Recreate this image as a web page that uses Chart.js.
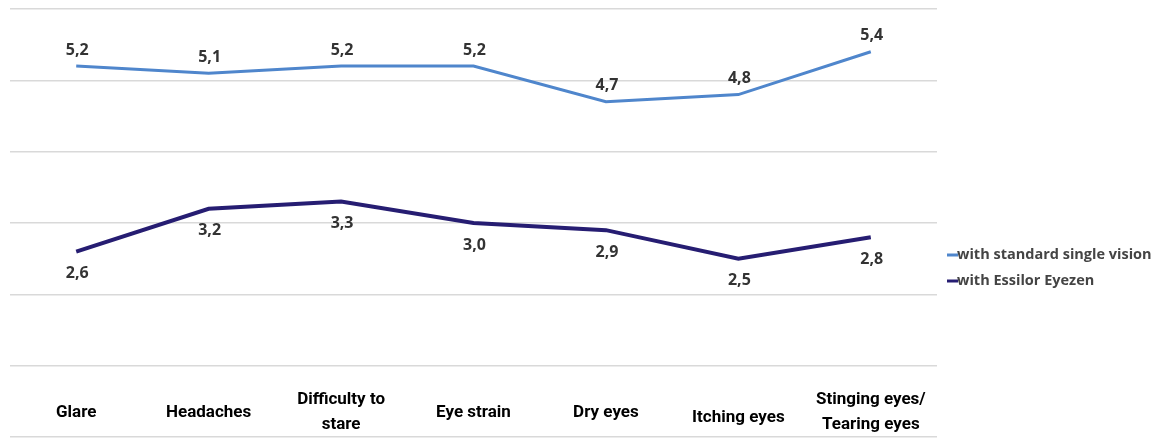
<!DOCTYPE html>
<html>
<head>
<meta charset="utf-8">
<script src="https://cdn.jsdelivr.net/npm/chart.js@4"></script>
<style>
  html, body { margin: 0; padding: 0; background: #fff; }
  #wrap { width: 1169px; height: 440px; position: relative; }
</style>
</head>
<body>
<div id="wrap"><canvas id="myChart"></canvas></div>
<script>
// categories and series
const categories = ['Glare', 'Headaches', ['Difficulty to', 'stare'], 'Eye strain', 'Dry eyes', 'Itching eyes', ['Stinging eyes/', 'Tearing eyes']];
const standardVision = [5.2, 5.1, 5.2, 5.2, 4.7, 4.8, 5.4];
const eyezen = [2.6, 3.2, 3.3, 3.0, 2.9, 2.5, 2.8];
const seriesNames = ['with standard single vision', 'with Essilor Eyezen'];

// value labels above the light line, below the dark one
const valueLabels = {
  id: 'valueLabels',
  afterDatasetsDraw(chart) {
    const ctx = chart.ctx;
    ctx.save();
    ctx.font = 'bold 16px "Open Sans"';
    ctx.fillStyle = '#333';
    ctx.textAlign = 'center';
    ctx.textBaseline = 'middle';
    chart.data.datasets.forEach((ds, i) => {
      const meta = chart.getDatasetMeta(i);
      meta.data.forEach((pt, j) => {
        const txt = ds.data[j].toFixed(1).replace('.', ',');
        const dy = i === 0 ? -16 : 22;
        ctx.fillText(txt, pt.x + 1, pt.y + dy);
      });
    });
    ctx.restore();
  }
};

// category names sit inside the plot, between the 1 and 0 lines
const categoryLabels = {
  id: 'categoryLabels',
  afterDraw(chart) {
    const ctx = chart.ctx;
    const xs = chart.scales.x;
    ctx.save();
    ctx.font = 'bold 17px Roboto';
    ctx.fillStyle = '#000';
    ctx.textAlign = 'center';
    ctx.textBaseline = 'middle';
    chart.data.labels.forEach((lab, i) => {
      const x = xs.getPixelForValue(i);
      if (Array.isArray(lab)) {
        ctx.fillText(lab[0], x, 400);
        ctx.fillText(lab[1], x, 425);
      } else {
        ctx.fillText(lab, x, i === 5 ? 418 : 413);
      }
    });
    ctx.restore();
  }
};

const sideLegend = {
  id: 'sideLegend',
  afterDraw(chart) {
    const ctx = chart.ctx;
    ctx.save();
    ctx.font = 'bold 14.5px "Open Sans"';
    ctx.fillStyle = '#444';
    ctx.textBaseline = 'middle';
    chart.data.datasets.forEach((ds, i) => {
      const y = 255 + i * 26;
      ctx.strokeStyle = ds.borderColor;
      ctx.lineWidth = 3;
      ctx.beginPath();
      ctx.moveTo(947, y);
      ctx.lineTo(958, y);
      ctx.stroke();
      ctx.fillText(ds.label, 957, y);
    });
    ctx.restore();
  }
};

const ctx = document.getElementById('myChart');

let chart = new Chart(ctx, {
  type: 'line',
  data: {
    labels: categories,
    datasets: [{
      label: seriesNames[0],
      data: standardVision,
      borderColor: '#4f86cc',
      borderWidth: 3,
      pointRadius: 0,
      tension: 0
    }, {
      label: seriesNames[1],
      data: eyezen,
      borderColor: '#261d72',
      borderWidth: 4,
      pointRadius: 0,
      tension: 0
    }]
  },
  options: {
    responsive: true,
    maintainAspectRatio: false,
    animation: false,
    layout: {
      padding: { top: 9, bottom: 3, left: 10, right: 232 }
    },
    plugins: {
      legend: { display: false },
      tooltip: { enabled: false }
    },
    scales: {
      x: {
        offset: true,
        display: false
      },
      y: {
        min: 0,
        max: 6,
        ticks: { display: false, stepSize: 1 },
        border: { display: false },
        grid: { color: '#d9d9d9', lineWidth: 1.5, drawTicks: false }
      }
    }
  },
  plugins: [valueLabels, categoryLabels, sideLegend]
});
</script>
</body>
</html>
